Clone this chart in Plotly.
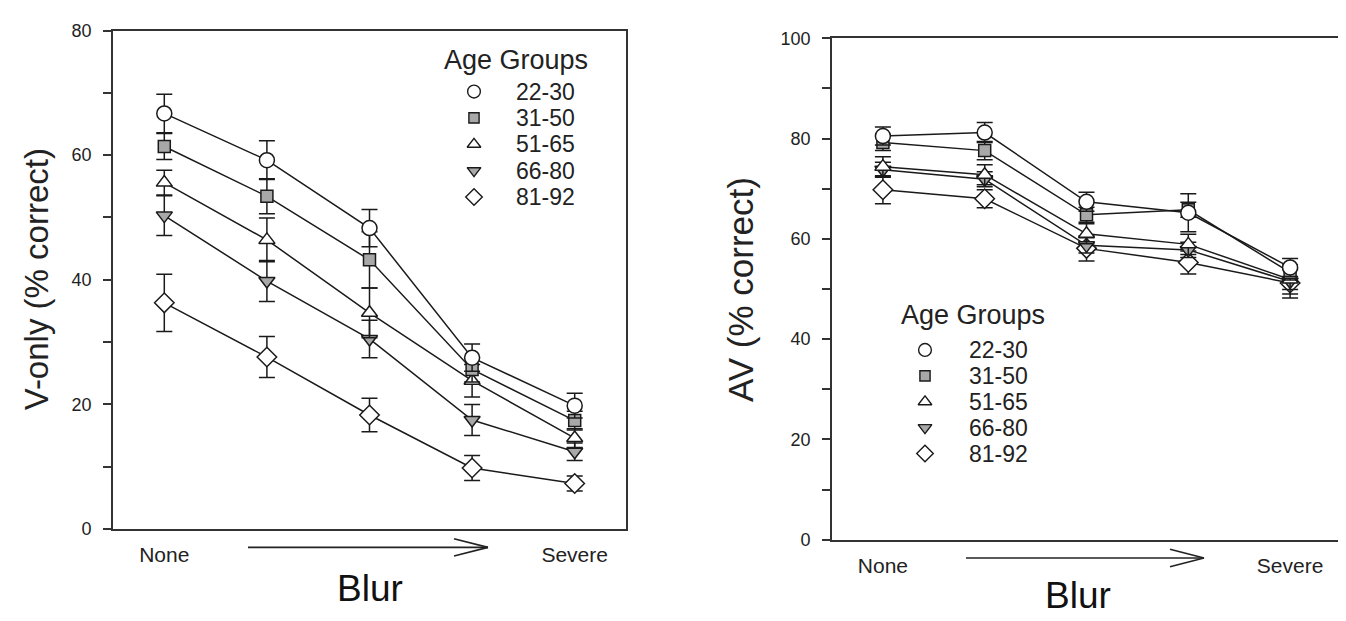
import plotly.graph_objects as go

W, H = 1346, 621

# ---------------- data ----------------
blur_levels = [1, 2, 3, 4, 5]
blur_ticks = [1, 5]
blur_ticktext = ["None", "Severe"]
age_groups = ["22-30", "31-50", "51-65", "66-80", "81-92"]

# V-only (% correct)
v_22_30 = [66.7, 59.2, 48.3, 27.5, 19.8]
v_31_50 = [61.4, 53.4, 43.2, 25.6, 17.4]
v_51_65 = [55.6, 46.4, 34.7, 23.8, 14.6]
v_66_80 = [50.3, 39.8, 30.5, 17.5, 12.4]
v_81_92 = [36.3, 27.6, 18.3, 9.8, 7.3]
v_err_22_30 = [3.1, 3.1, 3.0, 2.2, 2.0]
v_err_31_50 = [2.1, 2.8, 4.5, 2.0, 1.5]
v_err_51_65 = [2.0, 3.5, 4.0, 2.6, 1.5]
v_err_66_80 = [3.2, 3.3, 3.0, 2.5, 1.4]
v_err_81_92 = [4.6, 3.3, 2.7, 2.0, 1.2]

# AV (% correct)
av_22_30 = [80.5, 81.2, 67.4, 65.2, 54.3]
av_31_50 = [79.2, 77.6, 64.8, 65.8, 53.3]
av_51_65 = [74.4, 72.8, 61.0, 58.9, 51.9]
av_66_80 = [73.8, 71.9, 58.7, 57.8, 51.5]
av_81_92 = [69.8, 68.0, 58.1, 55.3, 51.2]
av_err_22_30 = [1.8, 2.0, 1.9, 3.8, 1.8]
av_err_31_50 = [1.6, 1.8, 1.5, 1.5, 1.5]
av_err_51_65 = [2.0, 2.0, 2.0, 2.0, 2.0]
av_err_66_80 = [1.5, 1.5, 1.5, 1.5, 2.5]
av_err_81_92 = [2.8, 1.8, 2.5, 2.3, 3.0]

v_series = [v_22_30, v_31_50, v_51_65, v_66_80, v_81_92]
v_errs = [v_err_22_30, v_err_31_50, v_err_51_65, v_err_66_80, v_err_81_92]
av_series = [av_22_30, av_31_50, av_51_65, av_66_80, av_81_92]
av_errs = [av_err_22_30, av_err_31_50, av_err_51_65, av_err_66_80, av_err_81_92]

# ---------------- styles ----------------
GRAY = "#a8a8a8"
INK = "#1a1a1a"
symbols = ["circle", "square", "triangle-up", "triangle-down", "diamond"]
fills = ["white", GRAY, "white", GRAY, "white"]
sizes = [15, 12, 14, 14, 15]
FONT = "Liberation Sans, Arial, sans-serif"


def fx(p):
    return p / W


def fy(p):
    return 1 - p / H


fig = go.Figure()

# draw oldest group first so the youngest group's markers sit on top
for (xa, ya, series, errs) in [("x", "y", v_series, v_errs), ("x2", "y2", av_series, av_errs)]:
    for i in reversed(range(len(age_groups))):
        vals, err = series[i], errs[i]
        fig.add_trace(go.Scatter(
            x=blur_levels, y=vals, xaxis=xa, yaxis=ya,
            mode="lines+markers", name=age_groups[i], showlegend=False,
            line=dict(color=INK, width=1.5),
            marker=dict(symbol=symbols[i], size=sizes[i], color=fills[i],
                        line=dict(color=INK, width=1.5)),
            error_y=dict(type="data", array=err, visible=True, color=INK,
                         thickness=1.5, width=8),
        ))

# legend markers (manual legends drawn on hidden helper axes)
legend_rows = list(range(len(age_groups)))
for xa, ya in [("x3", "y3"), ("x4", "y4")]:
    for i in legend_rows:
        fig.add_trace(go.Scatter(
            x=[0], y=[i], xaxis=xa, yaxis=ya, mode="markers", showlegend=False,
            cliponaxis=False,
            marker=dict(symbol=symbols[i], size=sizes[i] * 0.85, color=fills[i],
                        line=dict(color=INK, width=1.4)),
            hoverinfo="skip",
        ))

axis_common = dict(showline=True, mirror=True, linecolor="#333", linewidth=1.6,
                   showgrid=False, zeroline=False)

xcommon = dict(axis_common, range=[0.5, 5.5], tickvals=blur_ticks, ticktext=blur_ticktext,
               ticks="", tickfont=dict(size=21, color="#222", family=FONT),
               ticklabelstandoff=6)
ycommon = dict(axis_common, ticks="outside", ticklen=8, tickwidth=1.5, tickcolor="#333",
               tickfont=dict(size=18, color="#222", family=FONT), ticklabelstandoff=8,
               minor=dict(dtick=10, ticks="outside", ticklen=8, tickwidth=1.5, tickcolor="#333"))

fig.update_layout(
    width=W, height=H,
    margin=dict(l=0, r=0, t=0, b=0),
    paper_bgcolor="white", plot_bgcolor="white",
    font=dict(family=FONT, color="#222"),
    showlegend=False,
    xaxis=dict(xcommon, domain=[fx(105), fx(618)], anchor="y"),
    yaxis=dict(ycommon, domain=[fy(528), fy(13)], range=[0, 80], tickvals=[0, 20, 40, 60, 80], anchor="x"),
    xaxis2=dict(xcommon, domain=[fx(824), fx(1333)], anchor="y2"),
    yaxis2=dict(ycommon, domain=[fy(539), fy(21)], range=[0, 100], tickvals=[0, 20, 40, 60, 80, 100], anchor="x2"),
    xaxis3=dict(domain=[fx(466), fx(506)], range=[0, 1], visible=False, anchor="y3"),
    yaxis3=dict(domain=[fy(185), fy(76)], range=[4, 0], visible=False, anchor="x3"),
    xaxis4=dict(domain=[fx(917), fx(959)], range=[0, 1], visible=False, anchor="y4"),
    yaxis4=dict(domain=[fy(450), fy(343)], range=[4, 0], visible=False, anchor="x4"),
)

annotations = []
# legend labels
for xr, yr in [("x3", "y3"), ("x4", "y4")]:
    for i in legend_rows:
        annotations.append(dict(x=1, y=i, xref=xr, yref=yr, text=age_groups[i],
                                showarrow=False, xanchor="left", yanchor="middle",
                                font=dict(size=23, family=FONT, color="#222")))
# legend titles
annotations.append(dict(x=fx(508), y=fy(43), xref="paper", yref="paper", text="Age Groups",
                        showarrow=False, xanchor="center", yanchor="middle",
                        font=dict(size=27, family=FONT, color="#222")))
annotations.append(dict(x=fx(965), y=fy(307), xref="paper", yref="paper", text="Age Groups",
                        showarrow=False, xanchor="center", yanchor="middle",
                        font=dict(size=27, family=FONT, color="#222")))
# axis titles
annotations.append(dict(x=fx(28), y=fy(270), xref="paper", yref="paper", text="V-only (% correct)",
                        showarrow=False, textangle=-90, xanchor="center", yanchor="middle",
                        font=dict(size=33, family=FONT, color="#222")))
annotations.append(dict(x=fx(733), y=fy(280), xref="paper", yref="paper", text="AV (% correct)",
                        showarrow=False, textangle=-90, xanchor="center", yanchor="middle",
                        font=dict(size=35, family=FONT, color="#222")))
annotations.append(dict(x=fx(362), y=fy(589), xref="paper", yref="paper", text="Blur",
                        showarrow=False, xanchor="center", yanchor="middle",
                        font=dict(size=37, family=FONT, color="#111")))
annotations.append(dict(x=fx(1070), y=fy(597), xref="paper", yref="paper", text="Blur",
                        showarrow=False, xanchor="center", yanchor="middle",
                        font=dict(size=37, family=FONT, color="#111")))
fig.update_layout(annotations=annotations)

# direction arrows below the x axes
shapes = []
for (x0, x1, yv) in [(240, 480, 547), (958, 1196, 558)]:
    line = dict(color="#222", width=1.6)
    shapes.append(dict(type="line", xref="paper", yref="paper", x0=fx(x0), x1=fx(x1),
                       y0=fy(yv), y1=fy(yv), line=line))
    shapes.append(dict(type="line", xref="paper", yref="paper", x0=fx(x1 - 34), x1=fx(x1),
                       y0=fy(yv - 9), y1=fy(yv), line=line))
    shapes.append(dict(type="line", xref="paper", yref="paper", x0=fx(x1 - 34), x1=fx(x1),
                       y0=fy(yv + 9), y1=fy(yv), line=line))
fig.update_layout(shapes=shapes)

fig.write_html("out.html")
